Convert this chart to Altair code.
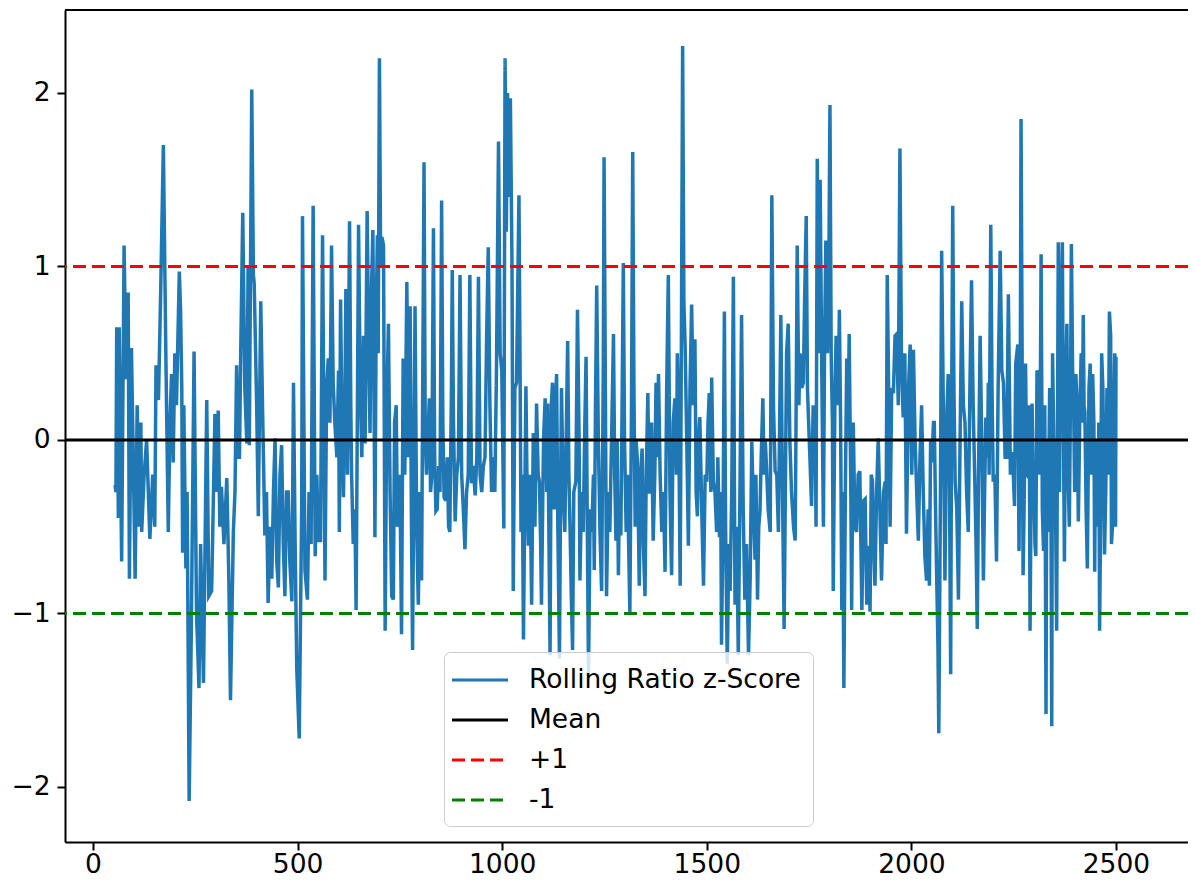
import altair as alt
import pandas as pd

# ---- data ----
x_idx = [
    54, 56, 58, 62, 64, 70, 76, 81, 86, 89, 94, 99, 103, 108, 113, 117, 119, 125, 131, 139,
    146, 151, 154, 160, 165, 172, 178, 184, 188, 192, 196, 200, 204, 211, 214, 217, 219, 222, 227, 230,
    235, 240, 247, 253, 259, 263, 270, 278, 283,
    290, 298, 302, 306, 310, 314, 320, 327, 332, 336, 343, 347, 351, 355, 358, 361, 366, 371, 376, 379,
    382, 388, 392, 394, 400, 404, 410, 415, 420, 424, 428, 433, 437, 441, 445, 449, 453, 457, 461, 465,
    469, 473, 477, 481, 486, 490, 494, 498, 504,
    510, 512, 518, 524, 528, 533, 538, 543, 547, 551, 556, 561, 567, 571, 575, 579, 583, 587, 591, 596,
    600, 602, 605, 609, 612, 616, 618, 622, 627, 630, 632, 636, 640, 643, 649, 653, 657, 661, 665, 670,
    674, 677, 680, 684, 687, 689, 692, 695, 697, 700, 703, 706, 710, 714, 718, 722, 726, 730, 734, 737,
    741, 744, 746, 750,
    754, 758, 762, 767, 771, 775, 778, 781, 784, 787, 791, 795, 799, 803, 809, 812, 815, 822, 825, 828,
    832, 835, 838, 841, 845, 848, 852, 855, 858, 862, 866, 869, 872, 876, 878, 881, 885, 889, 893, 897,
    901, 905, 909, 913, 917, 921, 925, 929, 934, 938, 942, 946, 950, 954, 958, 962, 966, 970, 974, 978,
    982, 986, 991, 995, 999, 1004, 1007, 1010, 1013, 1017, 1020, 1024, 1027,
    1031, 1035, 1041, 1044, 1046, 1049, 1052, 1055, 1058, 1061, 1064, 1068, 1072, 1076, 1080, 1084, 1088, 1091, 1094, 1096,
    1101, 1105, 1109, 1111, 1114, 1117, 1120, 1123, 1127, 1130, 1133, 1136, 1140, 1143, 1145, 1149, 1153, 1157, 1160, 1163,
    1166, 1169, 1172, 1175, 1180, 1184, 1188, 1190, 1194, 1198, 1202, 1205, 1208, 1211, 1215, 1219, 1223, 1225, 1228, 1231,
    1235, 1239, 1243, 1247, 1249,
    1255, 1259, 1263, 1268, 1272, 1275, 1278, 1281, 1284, 1286, 1290, 1293, 1296, 1299, 1303, 1306, 1309, 1312, 1316, 1319,
    1322, 1325, 1327, 1330, 1333, 1335, 1338, 1342, 1345, 1349, 1352, 1356, 1359, 1361, 1365, 1369, 1373, 1376, 1379, 1382,
    1386, 1390, 1394, 1398, 1402, 1406, 1410, 1414, 1418, 1422, 1426, 1428, 1431, 1435, 1438, 1441, 1444, 1447, 1451, 1455,
    1459, 1463, 1467, 1471, 1474, 1477, 1480,
    1483, 1488, 1492, 1496, 1500, 1503, 1506, 1510, 1512, 1516, 1520, 1524, 1527, 1531, 1534, 1536, 1540, 1543, 1546, 1550,
    1554, 1557, 1561, 1565, 1569, 1573, 1577, 1581, 1585, 1589, 1593, 1597, 1602, 1606, 1610, 1614, 1618, 1620, 1624, 1627,
    1630, 1633, 1637, 1640, 1643, 1646, 1650, 1655, 1659, 1663, 1667, 1671, 1675, 1679, 1681, 1685, 1689, 1692, 1695, 1699,
    1703, 1707, 1712, 1716, 1719, 1721, 1725,
    1728, 1732, 1736, 1739, 1743, 1746, 1748, 1752, 1756, 1760, 1765, 1767, 1770, 1773, 1777, 1781, 1785, 1788, 1791, 1795,
    1798, 1801, 1804, 1807, 1809, 1813, 1816, 1817, 1821, 1824, 1827, 1830, 1832, 1835, 1839, 1842, 1845, 1848, 1852, 1854,
    1857, 1858, 1862, 1866, 1870, 1874, 1879, 1883, 1887, 1891, 1895, 1899, 1902, 1905, 1909, 1911, 1915, 1919, 1923, 1927,
    1932, 1936, 1938, 1941, 1945, 1948, 1952, 1956, 1960, 1964, 1968, 1972,
    1976, 1980, 1984, 1988, 1993, 1997, 2001, 2005, 2009, 2013, 2017, 2021, 2025, 2029, 2033, 2037, 2041, 2044, 2047, 2050,
    2054, 2056, 2059, 2062, 2065, 2067, 2071, 2074, 2078, 2082, 2086, 2090, 2093, 2096, 2098, 2101, 2104, 2107, 2111, 2115,
    2119, 2123, 2127, 2131, 2135, 2139, 2143, 2147, 2151, 2155, 2158, 2161, 2164, 2168, 2172, 2176, 2179, 2182, 2186, 2188,
    2190, 2194, 2197, 2200, 2204, 2208, 2212, 2217, 2221, 2225, 2229, 2233, 2237,
    2242, 2247, 2252, 2255, 2260, 2263, 2266, 2268, 2271, 2273, 2276, 2279, 2282, 2285, 2288, 2290, 2293, 2295, 2298, 2300,
    2302, 2304, 2307, 2310, 2314, 2317, 2320, 2323, 2326, 2329, 2331, 2334, 2338, 2341, 2343, 2345, 2348, 2351, 2355, 2359,
    2362, 2364, 2369, 2371, 2374, 2377, 2380, 2383, 2386, 2389, 2391, 2394, 2396, 2399, 2402, 2405, 2408, 2412, 2415, 2418,
    2420, 2422, 2424, 2427, 2430, 2434, 2437, 2440, 2443, 2446, 2448, 2450, 2453, 2456, 2458, 2460, 2463, 2465, 2468, 2472,
    2475, 2478, 2481, 2484, 2487, 2489, 2492, 2494, 2497, 2499, 2500,
]

z_score = [
    -0.26, -0.30, 0.65, -0.45, 0.65, -0.70, 1.12, 0.35, 0.85, -0.80, 0.53, -0.20, -0.80, 0.20, -0.50, 0.10, -0.53, -0.20, 0.00, -0.57,
    -0.20, -0.50, 0.43, 0.23, 0.80, 1.70, 0.50, -0.53, 0.10, 0.38, -0.13, 0.50, 0.20, 0.97, 0.75, 0.30, -0.65, 0.20, -0.74, -0.30,
    -2.08, -1.15, 0.51, -1.00, -1.43, -0.60, -1.40, 0.23, -0.90,
    -0.87, 0.15, -0.30, 0.17, -0.50, -0.27, -0.60, -0.22, -0.80, -1.50, -0.53, -0.30, 0.43, -0.10, -0.10, 0.50, 1.31, 0.30, -0.02, 1.00,
    -0.03, 2.02, 0.95, 0.90, 0.20, -0.44, 0.80, 0.10, -0.55, -0.30, -0.94, -0.50, -0.80, -0.30, 0.01, -0.70, -0.85, -0.20, -0.03, -0.60,
    -0.90, -0.30, -0.30, -0.70, -0.93, 0.33, -0.60, -1.32, -1.72,
    -0.40, 1.29, -0.75, -0.92, -0.30, -0.60, 1.35, -0.67, -0.20, -0.58, -0.58, 1.18, -0.81, 0.30, 0.47, 0.10, 1.12, 0.33, 0.10, -0.10,
    0.40, -0.53, 0.81, 0.00, -0.33, 0.30, 0.87, -0.20, 1.26, 0.20, -0.20, -0.60, -0.40, -0.98, 1.24, 0.30, -0.10, 0.60, -0.02, 1.32,
    0.50, 0.04, 0.80, 1.21, 0.20, -0.56, 0.70, 1.18, 0.50, 2.20, 1.00, 1.17, 1.12, -1.10, 0.20, 0.67, -0.30, -0.90, -0.92, 0.10,
    0.20, -0.50, -0.47, -0.20,
    -1.12, 0.47, -0.20, 0.91, -0.10, 0.77, -0.40, -1.21, -0.20, 0.77, -0.50, -0.95, -0.30, -0.81, 1.60, 0.00, -0.20, 0.24, -0.30, -0.20,
    1.22, -0.10, -0.41, -0.40, -0.15, -0.30, 1.38, 0.10, -0.33, -0.35, -0.10, -0.50, -0.53, 0.30, 0.98, 0.10, -0.47, -0.20, -0.10, 0.95,
    -0.20, -0.40, -0.63, -0.30, -0.20, 0.95, -0.25, -0.15, -0.32, -0.10, 0.94, -0.20, -0.30, -0.15, -0.10, 0.60, 1.11, 0.20, -0.30, -0.10,
    -0.30, 0.40, 1.72, 0.50, 0.40, -0.51, 2.20, 1.20, 2.00, 1.40, 1.97, 1.00, -0.87,
    0.30, 0.33, 1.41, 0.30, -0.53, -0.20, -1.15, -0.40, 0.31, -0.30, -0.61, -0.20, -0.95, 0.04, -0.50, 0.21, -0.20, -0.24, -0.60, -0.95,
    0.00, 0.24, -0.30, 0.21, -0.50, -1.24, 0.20, 0.33, -0.40, 0.20, 0.38, -0.50, -1.26, -0.20, 0.30, -0.30, -0.53, 0.10, 0.57, -0.20,
    -0.53, -0.90, -1.21, -0.30, -0.24, 0.75, 0.00, -0.81, -0.30, -0.53, 0.10, 0.48, -0.50, -1.35, -0.40, -0.53, -0.20, -0.75, 0.20, 0.89,
    0.00, -0.53, -0.87, 0.40, 1.63,
    -0.90, -0.30, -0.53, 0.10, 0.61, -0.20, -0.58, 0.00, -0.78, -0.40, -0.55, 0.20, 1.02, 0.00, -0.53, -0.20, -0.60, -1.00, 0.20, 1.66,
    0.30, -0.50, 0.00, -0.10, -0.50, -0.84, -0.20, -0.05, -0.60, -0.90, -0.20, 0.27, -0.30, -0.30, 0.10, -0.58, -0.20, 0.33, -0.10, 0.38,
    -0.20, -0.53, -0.30, -0.76, 0.30, 0.95, -0.30, -0.78, 0.10, 0.24, -0.20, 0.50, 0.20, -0.84, 0.60, 2.27, 0.80, 0.55, 0.00, -0.61,
    0.30, 0.78, 0.20, 0.58, -0.30, -0.44, 0.00,
    0.13, -0.44, -0.84, -0.20, -0.24, 0.10, 0.27, -0.30, 0.36, -0.24, -0.30, -0.53, -0.10, -0.56, -0.30, -1.18, -0.40, 0.74, -0.50, -1.29,
    -0.60, -0.87, -0.30, 0.94, -0.95, -0.50, -1.24, -0.30, 0.72, -0.40, -0.92, -0.60, -1.24, -0.80, -0.01, -0.40, -0.69, -0.20, -0.92, -0.50,
    -0.41, -0.10, 0.24, -0.20, 0.00, -0.16, -0.40, -0.53, 1.41, 0.20, -0.18, -0.20, -0.53, 0.30, 0.72, -0.30, -1.09, -0.30, 0.50, 0.67,
    0.00, -0.30, -0.50, -0.58, 0.40, 1.12, 0.20,
    0.50, 0.30, 0.33, 0.80, 1.29, 0.30, 0.16, -0.10, -0.38, 0.20, 0.10, -0.50, 1.62, 0.50, 1.50, 0.40, -0.50, 0.60, 1.15, 0.50,
    0.90, 1.93, 0.50, 0.10, -0.87, 0.20, 0.60, 0.53, 0.20, 0.75, 0.10, -0.98, -0.30, -1.43, -0.20, 0.47, 0.00, 0.61, -0.30, -0.98,
    -0.10, 0.10, -0.50, -0.53, -0.20, -0.18, -0.98, -0.35, -0.34, -0.95, -0.61, -0.99, -0.20, -0.24, -0.70, -0.84, -0.30, 0.01, -0.40, -0.81,
    -0.30, -0.24, -0.60, 0.95, 0.20, -0.50, 0.30, 0.27, 0.60, 0.61, 0.20, 1.68,
    0.40, 0.13, 0.50, -0.54, 0.30, 0.55, -0.20, 0.52, 0.00, -0.30, -0.58, -0.10, 0.20, -0.30, -0.67, -0.81, -0.40, -0.84, 0.00, -0.13,
    0.10, 0.10, -0.40, -0.81, -1.20, -1.69, -0.30, 1.09, 0.20, -0.81, 0.10, 0.38, -0.20, -1.35, 0.00, 1.35, 0.30, -0.24, -0.40, -0.92,
    0.00, 0.80, 0.20, 0.10, -0.30, -0.53, 0.30, 0.92, 0.20, -0.24, -0.60, -1.09, -0.20, 0.60, 0.00, -0.81, -0.30, 0.13, -0.10, 0.33,
    -0.20, 1.24, 0.30, -0.24, -0.20, -0.70, 0.30, 1.09, 0.40, 0.33, -0.10, -0.10, 0.84,
    -0.20, -0.07, -0.38, 0.44, 0.55, -0.64, 0.30, 1.85, 0.30, -0.78, -0.30, 0.44, -0.20, -0.21, 0.20, -1.10, -0.20, 0.21, -0.30, -0.33,
    -0.60, -0.67, 0.40, 0.38, -0.20, 1.07, -0.40, -0.64, 0.20, -1.58, 0.00, -0.53, 0.30, -0.30, -1.65, 0.50, 0.00, -0.04, -1.10, 1.14,
    -0.30, 0.55, 1.14, 0.20, -0.70, 0.30, 0.67, -0.20, -0.50, 0.30, 1.13, 0.40, 0.33, -0.30, 0.38, 0.20, -0.47, 0.20, 0.50, 0.10,
    0.72, 0.20, 0.16, -0.40, -0.74, 0.30, 0.44, -0.20, 0.38, 0.10, -0.76, 0.00, -0.02, -0.50, 0.10, -1.10, -0.30, 0.50, 0.30, -0.66,
    -0.30, 0.30, -0.20, 0.74, 0.60, -0.60, -0.47, 0.00, 0.50, -0.50, 0.48,
]

series_names = ["Rolling Ratio z-Score", "Mean", "+1", "-1"]
series_colors = ["#1f77b4", "#000000", "#ff0000", "#008000"]
series_dashes = [[1, 0], [1, 0], [13, 6], [13, 6]]
ref_levels = [0, 1, -1]
x_ticks = [0, 500, 1000, 1500, 2000, 2500]
y_ticks = [-2, -1, 0, 1, 2]
x_domain = [-68.4, 2676]
y_domain = [-2.317, 2.478]

W, H = 1123, 832
FS = 26.5

line_df = pd.DataFrame({"x": x_idx, "z": z_score, "series": series_names[0]})
ref_df = pd.DataFrame({"z": ref_levels, "series": series_names[1:]})
edge_df = pd.DataFrame({"edge": [0]})

color_scale = alt.Scale(domain=series_names, range=series_colors)
dash_scale = alt.Scale(domain=series_names, range=series_dashes)
x_scale = alt.Scale(domain=x_domain, nice=False, zero=False)
y_scale = alt.Scale(domain=y_domain, nice=False, zero=False)

legend = alt.Legend(
    title=None,
    orient="none",
    legendX=379,
    legendY=642,
    symbolType="M-2,0L2,0",
    symbolSize=784,
    symbolOffset=8,
    symbolStrokeWidth=3.2,
    labelFontSize=FS,
    labelFont="DejaVu Sans",
    labelColor="#000000",
    labelOffset=33,
    labelLimit=600,
    fillColor="rgba(255,255,255,0.8)",
    strokeColor="#cccccc",
    cornerRadius=6,
    padding=12,
    rowPadding=10,
)

line = alt.Chart(line_df).mark_line(strokeWidth=3.5, clip=True).encode(
    x=alt.X("x:Q", scale=x_scale,
            axis=alt.Axis(values=x_ticks, format="d", title=None, grid=False, labelPadding=1)),
    y=alt.Y("z:Q", scale=y_scale,
            axis=alt.Axis(values=y_ticks, format="d", title=None, grid=False, labelPadding=7)),
    color=alt.Color("series:N", scale=color_scale, legend=legend),
    strokeDash=alt.StrokeDash("series:N", scale=dash_scale, legend=legend),
)

rules = alt.Chart(ref_df).mark_rule(strokeWidth=3).encode(
    y=alt.Y("z:Q", scale=y_scale),
    color=alt.Color("series:N", scale=color_scale, legend=legend),
    strokeDash=alt.StrokeDash("series:N", scale=dash_scale, legend=legend),
)

top_edge = alt.Chart(edge_df).mark_rule(color="black", strokeWidth=2).encode(
    x=alt.value(0), x2=alt.value(W), y=alt.value(0)
)

chart = alt.layer(line, rules, top_edge).properties(
    width=W,
    height=H,
    autosize=alt.AutoSizeParams(type="none"),
    padding={"left": 57, "top": 2, "right": 0, "bottom": 40},
).configure(
    font="DejaVu Sans",
).configure_view(
    stroke=None,
).configure_axis(
    labelFontSize=FS,
    labelFont="DejaVu Sans",
    labelColor="#000000",
    tickColor="#000000",
    domainColor="#000000",
    tickWidth=2,
    domainWidth=2,
    tickSize=8,
)

chart.save("out.html", embed_options={"renderer": "svg", "actions": False})
